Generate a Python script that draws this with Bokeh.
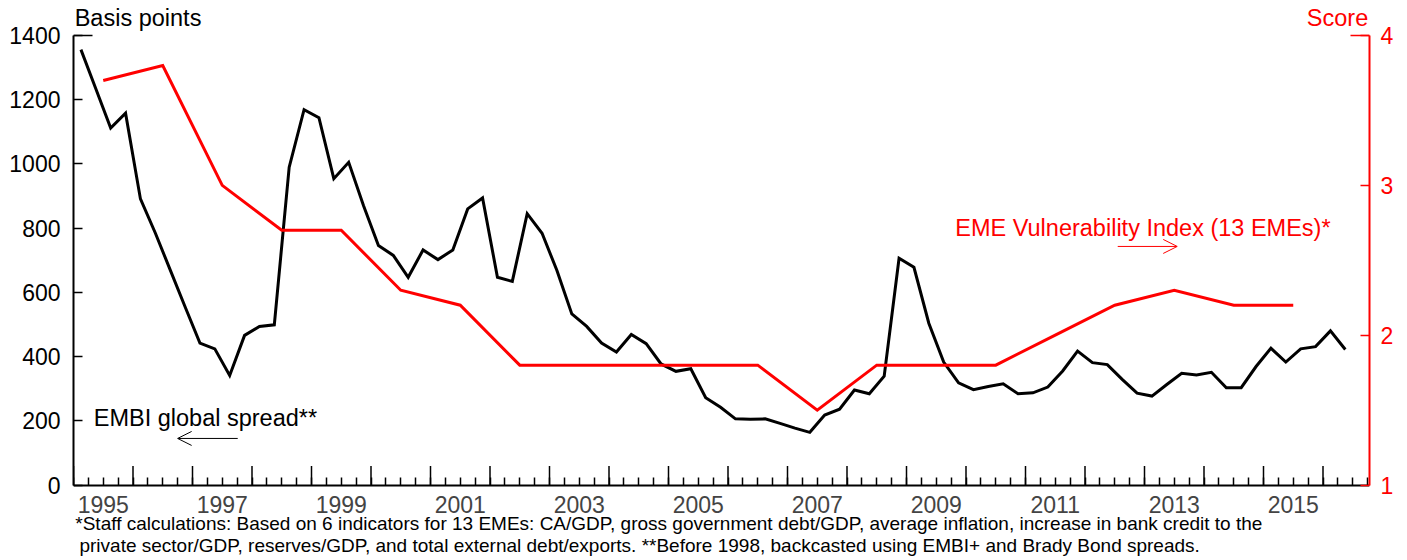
from bokeh.plotting import figure
from bokeh.models import Range1d, LinearAxis, FixedTicker, Label, Arrow, OpenHead
from bokeh.embed import file_html
from bokeh.resources import INLINE

# ---------------- data ----------------
# EMBI global spread, quarterly, 1995Q1 .. 2016Q2 (basis points)
embi_start_year = 1995
embi_spread = [
    1356, 1234, 1112, 1158,   # 1995
    891, 785, 670, 555,       # 1996
    442, 424, 341, 466,       # 1997
    494, 499, 990, 1169,      # 1998
    1144, 954, 1005, 870,     # 1999
    746, 715, 647, 732,       # 2000
    702, 732, 860, 894,       # 2001
    647, 634, 845, 784,       # 2002
    668, 533, 494, 442,       # 2003
    414, 469, 440, 377,       # 2004
    354, 362, 272, 242,       # 2005
    206, 205, 206, 192,       # 2006
    177, 164, 218, 236,       # 2007
    296, 284, 339, 706,       # 2008
    678, 504, 383, 318,       # 2009
    297, 307, 315, 284,       # 2010
    287, 305, 355, 417,       # 2011
    381, 375, 329, 286,       # 2012
    277, 313, 348, 343,       # 2013
    351, 303, 303, 369,       # 2014
    426, 383, 424, 431,       # 2015
    480, 422,                 # 2016
]

# EME Vulnerability Index (13 EMEs), annual score
vuln_years = [1995, 1996, 1997, 1998, 1999, 2000, 2001, 2002, 2003, 2004, 2005,
              2006, 2007, 2008, 2009, 2010, 2011, 2012, 2013, 2014, 2015]
vuln_score = [3.7, 3.8, 3.0, 2.7, 2.7, 2.3, 2.2, 1.8, 1.8, 1.8, 1.8,
              1.8, 1.5, 1.8, 1.8, 1.8, 2.0, 2.2, 2.3, 2.2, 2.2]

year_labels = ["1995", "1997", "1999", "2001", "2003", "2005",
               "2007", "2009", "2011", "2013", "2015"]
left_ticks = [0, 200, 400, 600, 800, 1000, 1200, 1400]
right_ticks = [1, 2, 3, 4]

footnote_1 = ("*Staff calculations: Based on 6 indicators for 13 EMEs: CA/GDP, gross government "
              "debt/GDP, average inflation, increase in bank credit to the")
footnote_2 = ("private sector/GDP, reserves/GDP, and total external debt/exports. "
              "**Before 1998, backcasted using EMBI+ and Brady Bond spreads.")

# positions: quarterly mid-points and annual mid-points
embi_x = [embi_start_year + (i + 0.5) * 0.25 for i in range(len(embi_spread))]
vuln_x = [y + 0.5 for y in vuln_years]

# ---------------- layout constants ----------------
FONT = "Liberation Sans"
FS = "23px"
FS_T = "23.5px"
FS_NOTE = "19px"
RED = "#ff0000"

FIG_W, FIG_H = 1404, 558
LEFT_PX, RIGHT_PX = 73, 1369          # frame left/right
TOP_VAL_PX, ZERO_PX = 35.0, 484.5     # pixel rows of 1400 bp and 0 bp
PX_PER_BP = (ZERO_PX - TOP_VAL_PX) / 1400.0
PX_PER_YEAR = 59.5
X0 = 1995.0
X1 = X0 + (RIGHT_PX - LEFT_PX) / PX_PER_YEAR
Y0 = -(FIG_H - ZERO_PX) / PX_PER_BP
Y1 = 1400 + TOP_VAL_PX / PX_PER_BP
S0 = 1 + Y0 * 3 / 1400.0
S1 = 1 + Y1 * 3 / 1400.0

p = figure(width=FIG_W, height=FIG_H, output_backend="svg", toolbar_location=None,
           x_range=Range1d(X0, X1), y_range=Range1d(Y0, Y1),
           min_border_left=LEFT_PX, min_border_right=FIG_W - RIGHT_PX,
           min_border_top=0, min_border_bottom=0)
p.outline_line_color = None
p.xgrid.visible = False
p.ygrid.visible = False
p.background_fill_color = "white"
p.border_fill_color = "white"

p.extra_y_ranges = {"score": Range1d(S0, S1)}

# lines
p.line(embi_x, embi_spread, line_color="black", line_width=3, line_join="miter")
p.line(vuln_x, vuln_score, line_color=RED, line_width=3, y_range_name="score", line_join="miter")

# left axis
ya = p.yaxis[0]
ya.ticker = FixedTicker(ticks=left_ticks)
ya.bounds = (0, 1400)
ya.axis_line_color = "black"
ya.axis_line_width = 2
ya.major_tick_in = 9
ya.major_tick_out = 0
ya.major_tick_line_width = 1.5
ya.minor_tick_line_color = None
ya.major_label_text_font = FONT
ya.major_label_text_font_size = FS
ya.major_label_text_color = "black"
ya.major_label_standoff = 13

# right axis
ra = LinearAxis(y_range_name="score", ticker=FixedTicker(ticks=right_ticks), bounds=(1, 4))
ra.axis_line_color = RED
ra.axis_line_width = 2
ra.major_tick_line_color = RED
ra.major_tick_in = 9
ra.major_tick_out = 0
ra.major_tick_line_width = 1.5
ra.minor_tick_line_color = None
ra.major_label_text_font = FONT
ra.major_label_text_font_size = FS
ra.major_label_text_color = RED
ra.major_label_standoff = 11
p.add_layout(ra, "right")

# bottom axis at 0: year labels centred in the year, quarterly minor ticks
year_ticks = list(range(1995, 2017))
quarter_ticks = [y + q * 0.25 for y in range(1995, 2017) for q in range(4)]
label_pos = [int(s) + 0.5 for s in year_labels]
xa = p.xaxis[0]
xa.fixed_location = 0
xa.ticker = FixedTicker(ticks=label_pos, minor_ticks=quarter_ticks)
xa.major_label_overrides = {pos: s for pos, s in zip(label_pos, year_labels)}
xa.axis_line_color = "black"
xa.axis_line_width = 2
xa.major_tick_line_color = None
xa.major_tick_in = 0
xa.major_tick_out = 0
xa.minor_tick_in = 8
xa.minor_tick_out = 0
xa.minor_tick_line_width = 1.5
xa.major_label_text_font = FONT
xa.major_label_text_font_size = FS
xa.major_label_standoff = 11

# taller year tick marks (19 px) and the longer cap ticks at the top of both scales
TALL = 19 / PX_PER_BP
p.segment(x0=year_ticks, y0=[0] * len(year_ticks), x1=year_ticks, y1=[TALL] * len(year_ticks),
          line_color="black", line_width=1.5)
CAP = 19 / PX_PER_YEAR
p.segment(x0=[X0], y0=[1400], x1=[X0 + CAP], y1=[1400], line_color="black", line_width=1.5)
p.segment(x0=[X1 - CAP], y0=[4], x1=[X1], y1=[4], line_color=RED, line_width=1.5,
          y_range_name="score")

# texts
def lab(x, y, text, color="black", align="left", size=FS_T):
    p.add_layout(Label(x=x, y=y, text=text, text_color=color, text_align=align,
                       text_baseline="middle", text_font=FONT, text_font_size=size))

lab(1995.02, 1456, "Basis points")
lab(2016.76, 1456, "Score", color=RED, align="right")
lab(1995.34, 210, "EMBI global spread**")
lab(2009.82, 802, "EME Vulnerability Index (13 EMEs)*", color=RED)
lab(1995.03, -120, footnote_1, size=FS_NOTE)
lab(1995.10, -188, footnote_2, size=FS_NOTE)

p.add_layout(Arrow(end=OpenHead(size=14, line_color="black", line_width=1),
                   x_start=1997.76, y_start=145, x_end=1996.75, y_end=145,
                   line_color="black", line_width=1))
p.add_layout(Arrow(end=OpenHead(size=14, line_color=RED, line_width=1),
                   x_start=2012.55, y_start=743, x_end=2013.55, y_end=743,
                   line_color=RED, line_width=1))

open("out.html", "w").write(file_html(p, INLINE))
